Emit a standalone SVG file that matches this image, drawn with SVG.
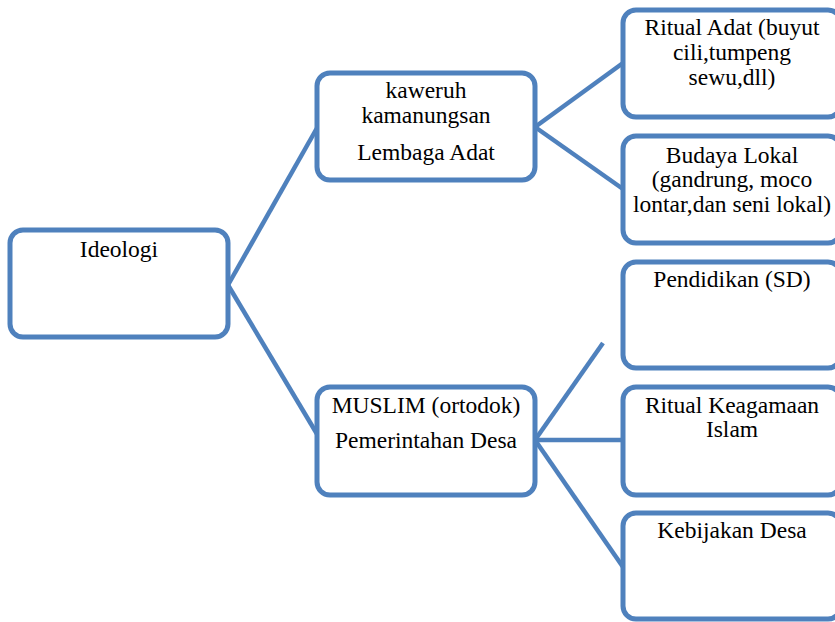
<svg xmlns="http://www.w3.org/2000/svg" width="835" height="622" viewBox="0 0 835 622">
<style>
.box{fill:#fff;stroke:#4F81BD;stroke-width:5}
.ln{stroke:#4F81BD;stroke-width:4.5;fill:none;stroke-linecap:butt}
.t{font-family:'Liberation Serif','Times New Roman',serif;font-size:23.5px;fill:#000;text-anchor:middle}
</style>
<rect width="835" height="622" fill="#fff"/>
<g id="connectors">
<line class="ln" x1="228" y1="285" x2="317" y2="128"/>
<line class="ln" x1="228" y1="285" x2="317" y2="434"/>
<line class="ln" x1="535" y1="127" x2="623" y2="63"/>
<line class="ln" x1="535" y1="127" x2="623" y2="189"/>
<line class="ln" x1="535" y1="440" x2="603" y2="343"/>
<line class="ln" x1="535" y1="440" x2="623" y2="440"/>
<line class="ln" x1="535" y1="440" x2="623" y2="567"/>
</g>
<g id="ideologi">
<rect class="box" x="10" y="230" width="218" height="107" rx="13"/>
<text class="t" x="119" y="257">Ideologi</text>
</g>
<g id="lembaga-adat">
<rect class="box" x="317" y="73" width="218" height="107" rx="13"/>
<text class="t" x="426" y="98">kaweruh</text>
<text class="t" x="426" y="123">kamanungsan</text>
<text class="t" x="426" y="160">Lembaga Adat</text>
</g>
<g id="pemerintahan-desa">
<rect class="box" x="317" y="387" width="218" height="108" rx="13"/>
<text class="t" x="426" y="413">MUSLIM (ortodok)</text>
<text class="t" x="426" y="448">Pemerintahan Desa</text>
</g>
<g id="ritual-adat">
<rect class="box" x="623" y="10" width="218" height="107" rx="13"/>
<text class="t" x="732" y="35">Ritual Adat (buyut</text>
<text class="t" x="732" y="60">cili,tumpeng</text>
<text class="t" x="732" y="85">sewu,dll)</text>
</g>
<g id="budaya-lokal">
<rect class="box" x="623" y="136" width="218" height="107" rx="13"/>
<text class="t" x="732" y="163">Budaya Lokal</text>
<text class="t" x="732" y="187">(gandrung, moco</text>
<text class="t" x="732" y="212">lontar,dan seni lokal)</text>
</g>
<g id="pendidikan">
<rect class="box" x="623" y="262" width="218" height="106" rx="13"/>
<text class="t" x="732" y="287">Pendidikan (SD)</text>
</g>
<g id="ritual-keagamaan">
<rect class="box" x="623" y="387" width="218" height="108" rx="13"/>
<text class="t" x="732" y="413">Ritual Keagamaan</text>
<text class="t" x="732" y="437">Islam</text>
</g>
<g id="kebijakan-desa">
<rect class="box" x="623" y="513" width="218" height="106" rx="13"/>
<text class="t" x="732" y="538">Kebijakan Desa</text>
</g>
</svg>
